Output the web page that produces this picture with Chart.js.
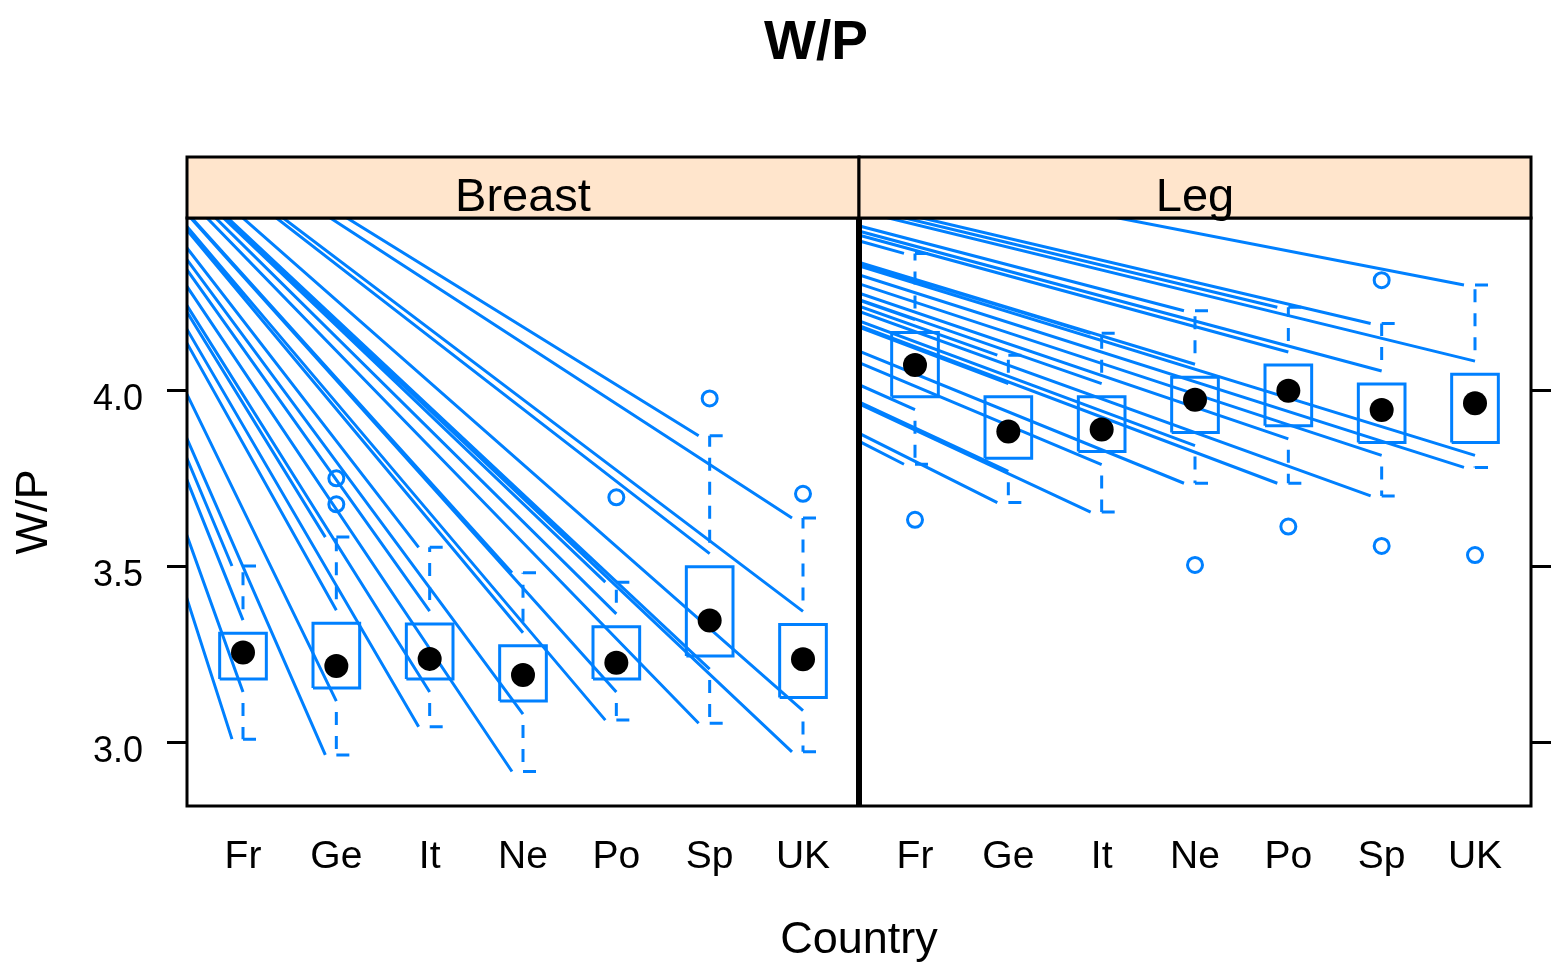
<!DOCTYPE html>
<html>
<head>
<meta charset="utf-8">
<script src="https://cdn.jsdelivr.net/npm/chart.js@4.4.1/dist/chart.umd.min.js"></script>
<style>
  html, body { margin: 0; padding: 0; background: #fff; }
</style>
</head>
<body>
<canvas id="chart" width="1552" height="970"></canvas>
<script>
// categories and panels
const countries = ['Fr', 'Ge', 'It', 'Ne', 'Po', 'Sp', 'UK'];
const panels = ['Breast', 'Leg'];
const yTicks = [3.0, 3.5, 4.0];

// Breast panel (W/P)
const breastLower  = [3.010, 2.965, 3.045, 2.918, 3.064, 3.055, 2.974];
const breastQ1     = [3.181, 3.155, 3.181, 3.118, 3.181, 3.246, 3.128];
const breastMedian = [3.256, 3.218, 3.238, 3.192, 3.227, 3.347, 3.237];
const breastQ3     = [3.311, 3.339, 3.337, 3.275, 3.329, 3.500, 3.336];
const breastUpper  = [3.502, 3.584, 3.555, 3.483, 3.456, 3.872, 3.638];
const breastOut    = [[], [3.751, 3.677], [], [], [3.697], [3.978], [3.707]];

// Leg panel
const legLower  = [3.791, 3.682, 3.655, 3.737, 3.737, 3.701, 3.782];
const legQ1     = [3.983, 3.808, 3.827, 3.881, 3.900, 3.853, 3.853];
const legMedian = [4.073, 3.884, 3.890, 3.974, 4.000, 3.945, 3.964];
const legQ3     = [4.165, 3.983, 3.983, 4.038, 4.073, 4.019, 4.047];
const legUpper  = [4.390, 4.101, 4.163, 4.227, 4.237, 4.191, 4.300];
const legOut    = [[3.633], [], [], [3.505], [3.614], [4.314, 3.559], [3.533]];

// stray lines all start from this point (top left corner of the picture)
const rayOrigin = { x: -1.657, y: 5.11 };

const stats = [
    { lower: breastLower, q1: breastQ1, median: breastMedian, q3: breastQ3, upper: breastUpper, out: breastOut },
    { lower: legLower, q1: legQ1, median: legMedian, q3: legQ3, upper: legUpper, out: legOut }
];

// layout / style
const X_MIN = 0.4, PANEL_W = 7.2;
const Y_MIN = 2.82, Y_MAX = 4.4906;
const BOX_HALF = 0.25, CAP_HALF = 0.257, CAP_DASH = 0.139, WH_DASH = 0.037;
const BLUE = '#0080ff';
const STRIP_BG = '#ffe5cc';
const STRIP_H = 61;
const LW = 3;
const SANS = '"Liberation Sans", Arial, sans-serif';
// first dash missing, then 13 on / 11 off
const WHISKER_DASH = [0, 24, 13, 11, 13, 11, 13, 11, 13, 11, 13, 11, 13, 11, 13, 11, 13, 11, 13, 11];
const CAP_DASHES = [0, 24, 13, 11];

const gap = () => ({ x: null, y: null });
const xPos = (p, i) => X_MIN + 0.6 + i + p * PANEL_W;

const datasets = [];
stats.forEach((s, p) => {
    const meds = [], outs = [], boxes = [], whisk = [], caps = [], rays = [];
    countries.forEach((c, i) => {
        const x = xPos(p, i);
        meds.push({ x: x, y: s.median[i] });
        s.out[i].forEach(v => outs.push({ x: x, y: v }));
        boxes.push({ x: x - BOX_HALF, y: s.q1[i] }, { x: x + BOX_HALF, y: s.q1[i] },
                   { x: x + BOX_HALF, y: s.q3[i] }, { x: x - BOX_HALF, y: s.q3[i] },
                   { x: x - BOX_HALF, y: s.q1[i] }, gap());
        whisk.push({ x: x, y: s.q3[i] }, { x: x, y: s.upper[i] }, gap(),
                   { x: x, y: s.q1[i] }, { x: x, y: s.lower[i] }, gap());
        caps.push({ x: x - CAP_HALF, y: s.upper[i] }, { x: x + CAP_HALF, y: s.upper[i] }, gap(),
                  { x: x - CAP_HALF, y: s.lower[i] }, { x: x + CAP_HALF, y: s.lower[i] }, gap());
        rays.push({ ...rayOrigin }, { x: x - CAP_HALF + CAP_DASH, y: s.upper[i] }, gap(),
                  { ...rayOrigin }, { x: x, y: s.q3[i] + WH_DASH }, gap(),
                  { ...rayOrigin }, { x: x, y: s.q1[i] - WH_DASH }, gap(),
                  { ...rayOrigin }, { x: x - CAP_HALF + CAP_DASH, y: s.lower[i] }, gap());
    });
    const lineBase = { showLine: true, pointRadius: 0, pointHitRadius: 0, borderColor: BLUE,
                       borderWidth: LW, spanGaps: false, fill: false, panel: p };
    datasets.push(
        { data: meds, showLine: false, pointRadius: 12, pointBackgroundColor: '#000',
          pointBorderWidth: 0, order: 0, panel: p },
        { data: outs, showLine: false, pointRadius: 7.5, pointBackgroundColor: 'rgba(0,0,0,0)',
          pointBorderColor: BLUE, pointBorderWidth: LW, order: 1, panel: p },
        { ...lineBase, data: boxes, order: 2 },
        { ...lineBase, data: whisk, borderDash: WHISKER_DASH, order: 3 },
        { ...lineBase, data: caps, borderDash: CAP_DASHES, order: 3 },
        { ...lineBase, data: rays, order: 5 }
    );
});

// clip every dataset to its own panel
const panelClip = {
    id: 'panelClip',
    beforeDatasetDraw(chart, args) {
        const p = chart.data.datasets[args.index].panel;
        const { ctx, chartArea, scales } = chart;
        const x0 = scales.x.getPixelForValue(X_MIN + p * PANEL_W);
        const x1 = scales.x.getPixelForValue(X_MIN + (p + 1) * PANEL_W);
        ctx.save();
        ctx.beginPath();
        ctx.rect(x0, chartArea.top, x1 - x0, chartArea.bottom - chartArea.top);
        ctx.clip();
    },
    afterDatasetDraw(chart) {
        chart.ctx.restore();
    }
};

// panel borders, strips and main title
const panelFrame = {
    id: 'panelFrame',
    afterDatasetsDraw(chart) {
        const { ctx, chartArea: a, scales } = chart;
        ctx.save();
        ctx.strokeStyle = '#000';
        ctx.lineWidth = LW;
        panels.forEach((name, p) => {
            const e0 = scales.x.getPixelForValue(X_MIN + p * PANEL_W);
            const e1 = scales.x.getPixelForValue(X_MIN + (p + 1) * PANEL_W);
            const x0 = p === 0 ? e0 : e0 + 1.5;
            const x1 = p === 0 ? e1 - 1.5 : e1;
            ctx.strokeRect(x0, a.top, x1 - x0, a.bottom - a.top);
            ctx.fillStyle = STRIP_BG;
            ctx.fillRect(e0, a.top - STRIP_H, e1 - e0, STRIP_H);
            ctx.strokeRect(e0, a.top - STRIP_H, e1 - e0, STRIP_H);
            ctx.fillStyle = '#000';
            ctx.font = '47px ' + SANS;
            ctx.textAlign = 'center';
            ctx.textBaseline = 'alphabetic';
            ctx.fillText(name, (e0 + e1) / 2, a.top - 7);
        });
        // title sits a bit left of the panels' centre, as in the original
        ctx.font = 'bold 55px ' + SANS;
        ctx.textAlign = 'center';
        ctx.textBaseline = 'alphabetic';
        ctx.fillText('W/P', (a.left + a.right) / 2 - 43, 59);
        ctx.restore();
    }
};

const yGrid = { drawOnChartArea: false, drawTicks: true, tickLength: 20, color: '#000', lineWidth: LW };

new Chart(document.getElementById('chart'), {
    type: 'line',
    data: { datasets: datasets },
    options: {
        responsive: false,
        animation: false,
        devicePixelRatio: 1,
        events: [],
        layout: { padding: { top: 218 } },
        plugins: {
            legend: { display: false },
            tooltip: { enabled: false },
            title: { display: false }
        },
        scales: {
            x: {
                type: 'linear',
                min: X_MIN,
                max: X_MIN + 2 * PANEL_W,
                afterFit: s => { s.height = 164; },
                afterBuildTicks: s => {
                    s.ticks = [];
                    panels.forEach((n, p) => countries.forEach((c, i) => s.ticks.push({ value: xPos(p, i) })));
                },
                ticks: {
                    callback: (v, i) => countries[i % countries.length],
                    color: '#000',
                    font: { family: SANS, size: 39 },
                    padding: 28,
                    maxRotation: 0,
                    autoSkip: false
                },
                grid: { display: false, drawTicks: false },
                border: { display: false },
                title: {
                    display: true,
                    text: 'Country',
                    color: '#000',
                    font: { family: SANS, size: 45 },
                    padding: { top: 0, bottom: 2 }
                }
            },
            y: {
                type: 'linear',
                position: 'left',
                min: Y_MIN,
                max: Y_MAX,
                afterFit: s => { s.width = 187; },
                afterBuildTicks: s => { s.ticks = yTicks.map(v => ({ value: v })); },
                ticks: {
                    callback: v => v.toFixed(1),
                    color: '#000',
                    font: { family: SANS, size: 36 },
                    padding: 24,
                    labelOffset: 9
                },
                grid: yGrid,
                border: { display: false },
                title: {
                    display: true,
                    text: 'W/P',
                    color: '#000',
                    font: { family: SANS, size: 45 },
                    padding: { top: 8, bottom: 0 }
                }
            },
            y2: {
                type: 'linear',
                position: 'right',
                min: Y_MIN,
                max: Y_MAX,
                afterFit: s => { s.width = 21; },
                afterBuildTicks: s => { s.ticks = yTicks.map(v => ({ value: v })); },
                ticks: { display: false },
                grid: yGrid,
                border: { display: false }
            }
        }
    },
    plugins: [panelClip, panelFrame]
});
</script>
</body>
</html>
